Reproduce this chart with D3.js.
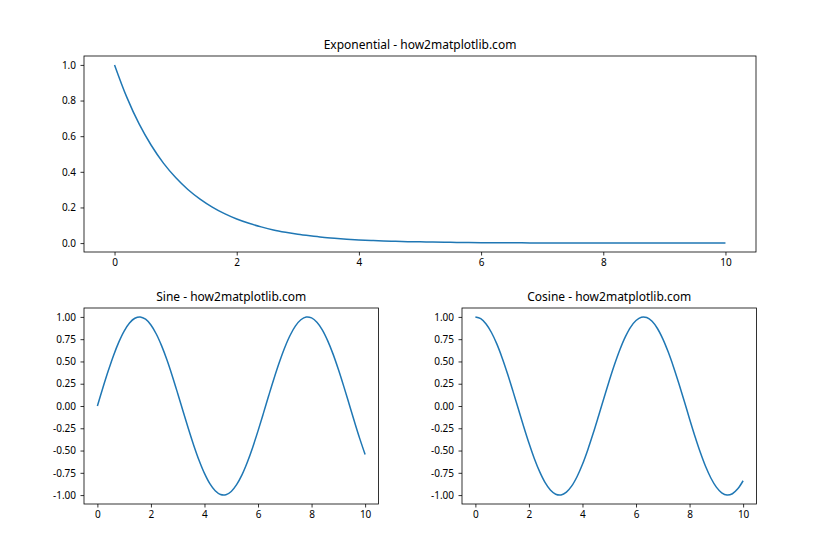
<!DOCTYPE html>
<html><head><meta charset="utf-8">
<script src="https://cdn.jsdelivr.net/npm/d3@7"></script>
<style>
body{margin:0;background:#fff;}
svg text{font-family:"Noto Sans","DejaVu Sans",sans-serif;fill:#000;}
.tick line,.domain{stroke:#000;}
</style></head>
<body>
<svg id="c" width="840" height="560"></svg>
<script>
const xValues = [0,0.2,0.4,0.6,0.8,1,1.2,1.4,1.6,1.8,2,2.2,2.4,2.6,2.8,3,3.2,3.4,3.6,3.8,4,4.2,4.4,4.6,4.8,5,5.2,5.4,5.6,5.8,6,6.2,6.4,6.6,6.8,7,7.2,7.4,7.6,7.8,8,8.2,8.4,8.6,8.8,9,9.2,9.4,9.6,9.8,10];
const expValues = [1.000,0.819,0.670,0.549,0.449,0.368,0.301,0.247,0.202,0.165,0.135,0.111,0.091,0.074,0.061,0.050,0.041,0.033,0.027,0.022,0.018,0.015,0.012,0.010,0.008,0.007,0.006,0.005,0.004,0.003,0.0025,0.002,0.0017,0.0014,0.0011,0.0009,0.0007,0.0006,0.0005,0.0004,0.0003,0.0003,0.0002,0.0002,0.0002,0.0001,0.0001,0.0001,0.0001,0.0001,0.0000];
const sinValues = [0,0.199,0.389,0.565,0.717,0.841,0.932,0.985,1.000,0.974,0.909,0.808,0.675,0.516,0.335,0.141,-0.058,-0.256,-0.443,-0.612,-0.757,-0.872,-0.952,-0.994,-0.996,-0.959,-0.883,-0.773,-0.631,-0.465,-0.279,-0.083,0.117,0.312,0.494,0.657,0.794,0.899,0.968,0.999,0.989,0.941,0.855,0.734,0.585,0.412,0.223,0.025,-0.174,-0.366,-0.544];
const cosValues = [1.000,0.980,0.921,0.825,0.697,0.540,0.362,0.170,-0.029,-0.227,-0.416,-0.589,-0.737,-0.857,-0.942,-0.990,-0.998,-0.967,-0.897,-0.791,-0.654,-0.490,-0.307,-0.112,0.087,0.284,0.469,0.635,0.776,0.886,0.960,0.997,0.993,0.951,0.870,0.754,0.608,0.439,0.253,0.057,-0.146,-0.340,-0.520,-0.680,-0.811,-0.911,-0.975,-1.000,-0.985,-0.930,-0.839];
const xTicks = [0,2,4,6,8,10];
const expTicks = [0.0,0.2,0.4,0.6,0.8,1.0];
const trigTicks = [-1.00,-0.75,-0.50,-0.25,0.00,0.25,0.50,0.75,1.00];
const titles = ["Exponential - how2matplotlib.com","Sine - how2matplotlib.com","Cosine - how2matplotlib.com"];

const svg = d3.select("#c");
const color = "#1f77b4";

function panel(box, yVals, yDomain, yTicks, yFmt, title){
  const x = d3.scaleLinear().domain([-0.5,10.5]).range([box.l, box.r]);
  const y = d3.scaleLinear().domain(yDomain).range([box.b, box.t]);
  const g = svg.append("g");
  const line = d3.line().x((d,i)=>x(xValues[i])).y(d=>y(d)).curve(d3.curveCatmullRom);
  g.append("path").datum(yVals).attr("d", line).attr("fill","none")
    .attr("stroke", color).attr("stroke-width",1.5).attr("stroke-linejoin","round").attr("stroke-linecap","butt");
  const xa = g.append("g").attr("transform",`translate(0,${box.b})`)
    .call(d3.axisBottom(x).tickValues(xTicks).tickFormat(d3.format("d")).tickSize(3.5).tickPadding(3.5).tickSizeOuter(0));
  const ya = g.append("g").attr("transform",`translate(${box.l},0)`)
    .call(d3.axisLeft(y).tickValues(yTicks).tickFormat(yFmt).tickSize(3.5).tickPadding(4.5).tickSizeOuter(0));
  [xa,ya].forEach(a=>{a.select(".domain").remove(); a.selectAll("text").attr("font-size","10px").attr("fill","#000");
    a.selectAll(".tick line").attr("stroke-width",0.8);});
  g.append("rect").attr("x",box.l).attr("y",box.t).attr("width",box.r-box.l).attr("height",box.b-box.t)
    .attr("fill","none").attr("stroke","#000").attr("stroke-width",0.8);
  g.append("text").attr("x",(box.l+box.r)/2).attr("y",box.t-7).attr("text-anchor","middle")
    .attr("font-size","12px").text(title);
}

const fmtMinus = f => d => f(d).replace("−","-");
panel({l:84,r:756,t:56,b:252}, expValues, [-0.05,1.05], expTicks, fmtMinus(d3.format(".1f")), titles[0]);
panel({l:84,r:378.5,t:308,b:504}, sinValues, [-1.1,1.1], trigTicks, fmtMinus(d3.format(".2f")), titles[1]);
panel({l:462,r:756.5,t:308,b:504}, cosValues, [-1.1,1.1], trigTicks, fmtMinus(d3.format(".2f")), titles[2]);
</script>
</body></html>
